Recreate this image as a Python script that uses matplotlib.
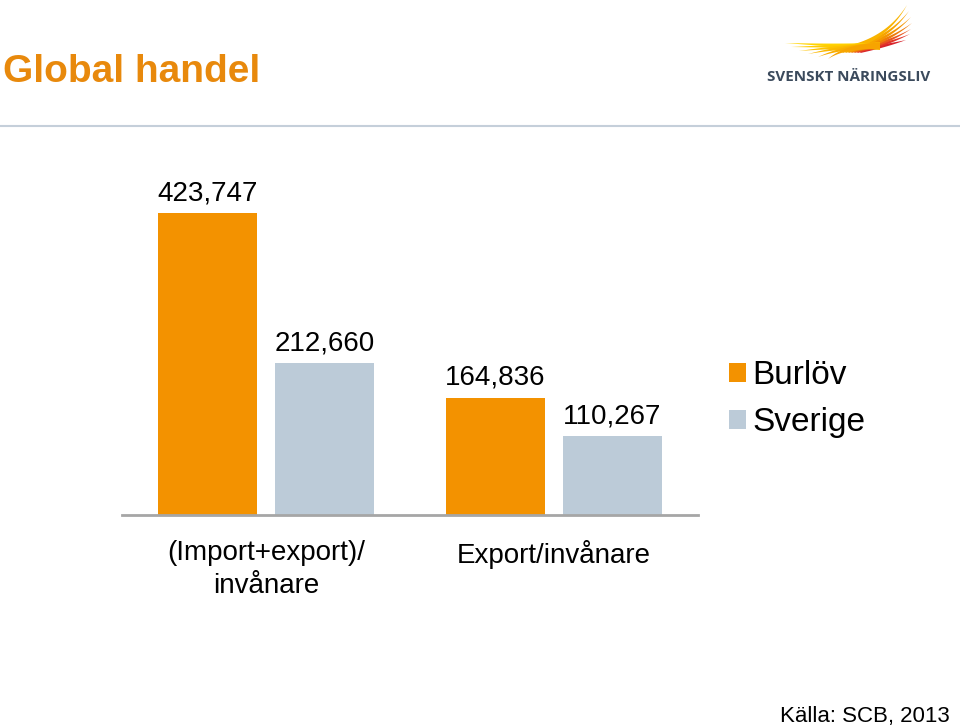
import numpy as np
import matplotlib.pyplot as plt
import matplotlib.patches as patches

###############################################################################
# Data
###############################################################################
categories = ['(Import+export)/\ninvånare', 'Export/invånare']
burlov = [423747, 164836]
sverige = [212660, 110267]
series_names = ['Burlöv', 'Sverige']
TITLE = 'Global handel'
SOURCE = 'Källa: SCB, 2013'

###############################################################################
# Style
###############################################################################
(ORANGE, GREY) = ('#F39200', '#BCCBD8')
TITLE_COL = '#E8890C'
FONT = ['Liberation Sans', 'DejaVu Sans']
plt.rcParams['font.family'] = FONT
(W, H) = (960, 728)
(BW, OFF) = (0.343, 0.203)


def feather(base, ctrl, tip, hw):
    """Tapered quadratic-bezier wedge (pixel coords) from base to tip."""
    t = np.linspace(0, 1, 30)[:, None]
    (b, c, p) = (np.array(base), np.array(ctrl), np.array(tip))
    pts = (1-t)**2*b + 2*(1-t)*t*c + t**2*p
    d = np.gradient(pts, axis=0)
    n = np.stack([-d[:, 1], d[:, 0]], axis=1)
    n /= np.linalg.norm(n, axis=1)[:, None]
    w = hw*(1-t)
    return np.vstack([pts + n*w, (pts - n*w)[::-1]])


###############################################################################
# Figure
###############################################################################
fig = plt.figure(figsize=(W/100, H/100), dpi=100)
fig.set_facecolor('white')
# Decoration layer in pixel coordinates ---------------------------------------
deco = fig.add_axes([0, 0, 1, 1], zorder=0)
deco.set_xlim(0, W)
deco.set_ylim(H, 0)
deco.axis('off')
deco.plot([0, W], [126, 126], color='#C5CFDA', lw=1.5)
deco.text(3, 82, TITLE, fontsize=28, fontweight='bold', color=TITLE_COL,
          ha='left', va='baseline')
deco.text(950, 722, SOURCE, fontsize=16, color='black',
          ha='right', va='baseline')
# Logo: right feathers (red at the bottom drawn first) ------------------------
right_tips = [(907, 5), (909, 11), (911, 17), (912, 23), (911, 29),
              (910, 34), (906, 40)]
right_cols = ['#F9B400', '#F7A400', '#F39400', '#EE7C0A', '#E8561E',
              '#E2342A', '#D7232B']
for (i, (tip, col)) in reversed(list(enumerate(zip(right_tips, right_cols)))):
    base = (842 + 3*i, 50)
    ctrl = (886, 47 - 0.15*(47-tip[1]))
    deco.add_patch(patches.Polygon(
        feather(base, ctrl, tip, 3.0), closed=True,
        facecolor=col, edgecolor='none'))
# Logo: left feathers ---------------------------------------------------------
left_tips = [(785, 43), (791, 47), (799, 51), (808, 54), (818, 57), (828, 59)]
left_cols = ['#FFD400', '#FFCC00', '#FDC200', '#FBB800', '#F9AE00', '#F7A400']
for (tip, col) in zip(left_tips, left_cols):
    deco.add_patch(patches.Polygon(
        feather((880, 46), (845, 46), tip, 3.4), closed=True,
        facecolor=col, edgecolor='none'))
deco.text(767, 81, 'SVENSKT NÄRINGSLIV', fontsize=10.9, fontweight='bold',
          color='#3B4A5C', ha='left', va='baseline',
          family=['Open Sans', 'DejaVu Sans'])

###############################################################################
# Bars
###############################################################################
ax = fig.add_axes([122/W, 213/H, 576/W, 320.7/H], zorder=1)
ax.patch.set_alpha(0)
x = np.arange(len(categories))
b1 = ax.bar(x - OFF, burlov, BW, color=ORANGE, label=series_names[0])
b2 = ax.bar(x + OFF, sverige, BW, color=GREY, label=series_names[1])
for (bars, vals) in ((b1, burlov), (b2, sverige)):
    for (bar, v) in zip(bars, vals):
        ax.annotate('{:,}'.format(v), (bar.get_x() + bar.get_width()/2, v),
                    xytext=(0, 5), textcoords='offset points',
                    ha='center', va='bottom', fontsize=20)
ax.set_xlim(-0.5, 1.5)
ax.set_ylim(0, 450000)
for s in ('top', 'right', 'left'):
    ax.spines[s].set_visible(False)
ax.spines['bottom'].set_color('#A6A6A6')
ax.spines['bottom'].set_linewidth(2)
ax.set_yticks([])
ax.set_xticks(x)
ax.set_xticklabels(categories, fontsize=20, linespacing=1.35)
ax.tick_params(axis='x', length=0, pad=18)
ax.legend(loc='upper left', bbox_to_anchor=(607/576, 0.483), frameon=False,
          fontsize=24, handlelength=0.51, handleheight=0.51,
          handletextpad=0.2, labelspacing=0.49, borderpad=0,
          borderaxespad=0)

fig.savefig('out.png', dpi=100)
plt.close(fig)
